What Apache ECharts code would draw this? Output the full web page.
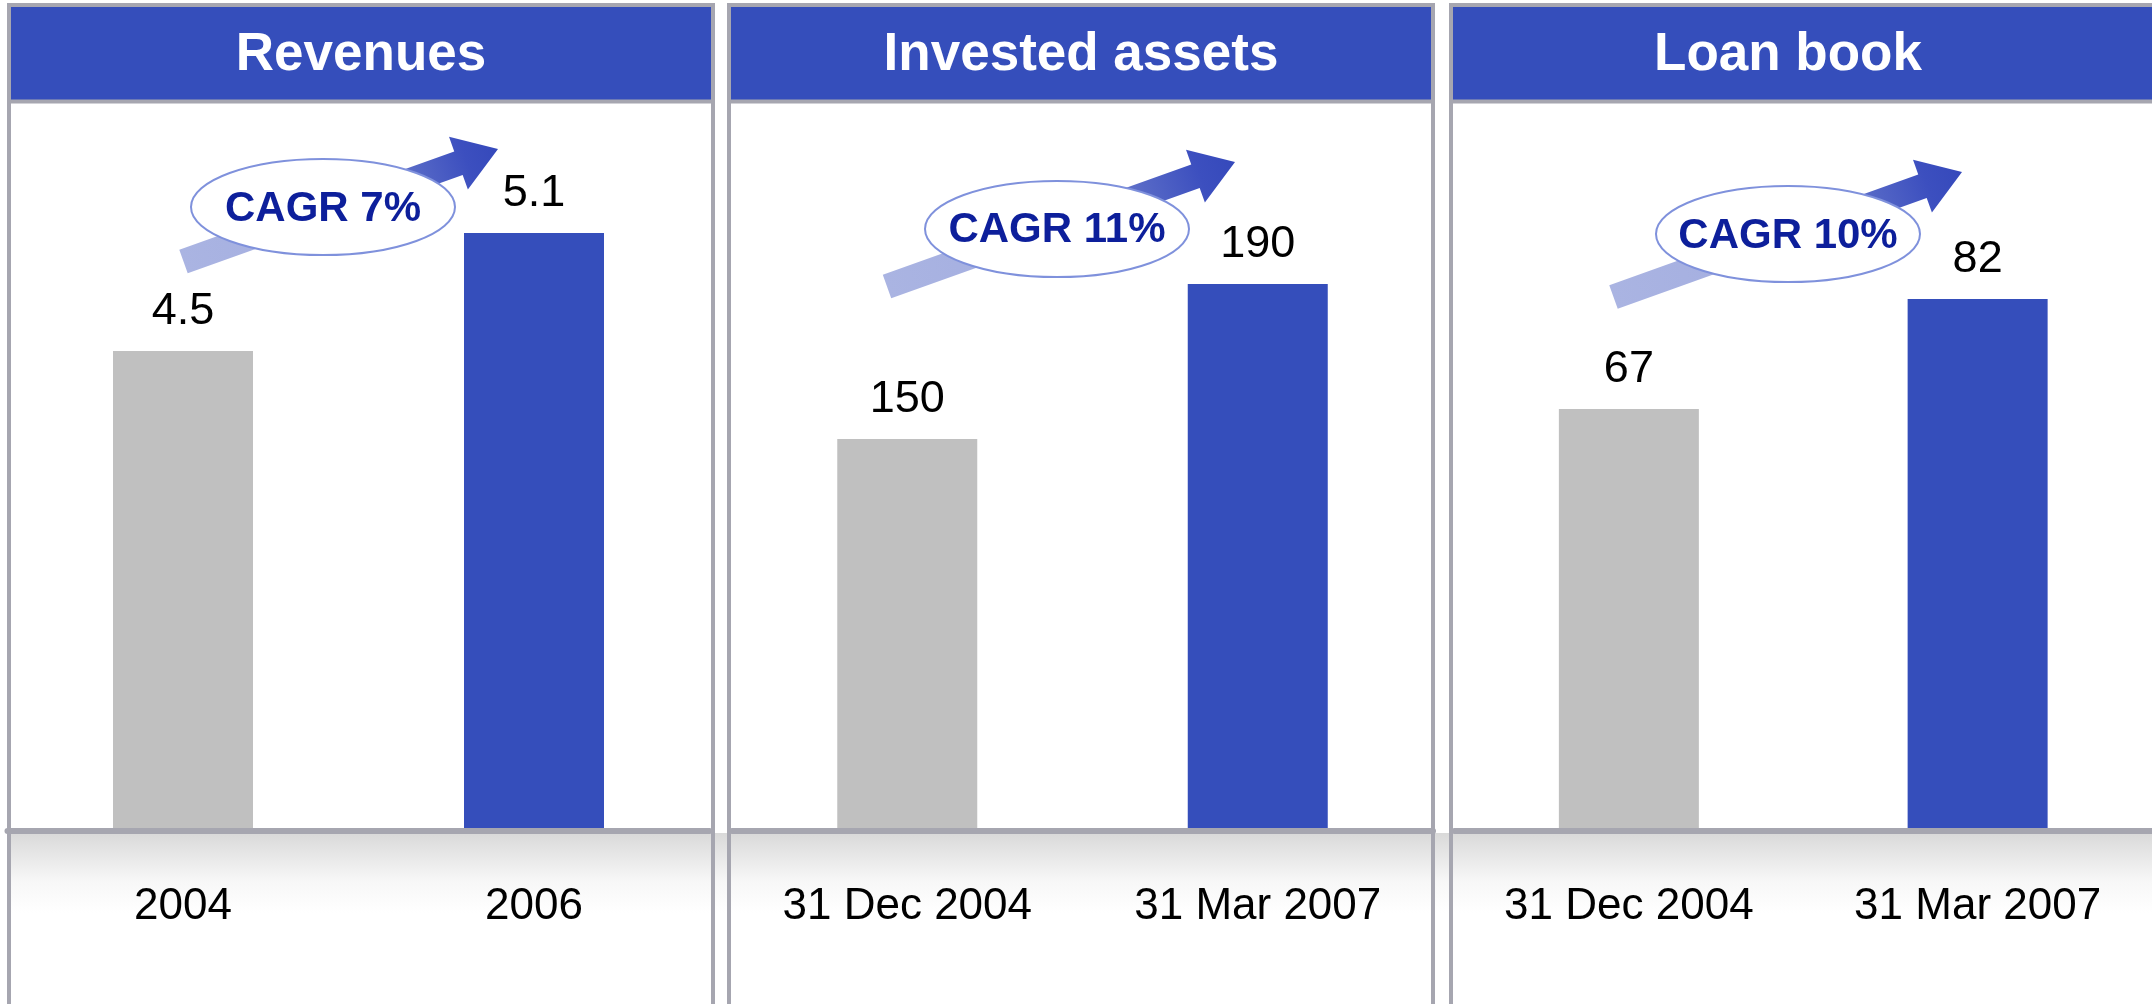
<!DOCTYPE html>
<html>
<head>
<meta charset="utf-8">
<script src="https://cdn.jsdelivr.net/npm/echarts@6/dist/echarts.min.js"></script>
<style>
  html, body { margin: 0; padding: 0; background: #fff; }
  #chart { width: 2152px; height: 1004px; }
</style>
</head>
<body>
<div id="chart"></div>
<script>
// data
var panelTitles = ['Revenues', 'Invested assets', 'Loan book'];
var yearCats = ['2004', '2006'];
var dateCats = ['31 Dec 2004', '31 Mar 2007'];
var revenues = [4.5, 5.1];
var investedAssets = [150, 190];
var loanBook = [67, 82];
var cagrLabels = ['CAGR 7%', 'CAGR 11%', 'CAGR 10%'];

var FONT = '"Liberation Sans", Arial, sans-serif';
var BLUE = '#354ebb';
var GREY = '#c0c0c0';
var BORDER = '#a6a6b0';

var myChart = echarts.init(document.getElementById('chart'));

// panel frames (x of left border line, width)
var panels = [
  { x: 9, w: 704 },
  { x: 729, w: 704 },
  { x: 1451, w: 800 }
];
// grids and hidden value ranges per panel
var grids = [
  { left: 7.5, width: 702, min: 2.059, max: 5.776 },
  { left: 732, width: 701, min: 48.84, max: 237.49 },
  { left: 1454.5, width: 702, min: 9.455, max: 109.14 }
];
var cats = [yearCats, dateCats, dateCats];
var values = [revenues, investedAssets, loanBook];

// cagr bubble + arrow placement
var badges = [
  { cx: 323, cy: 207, ty: 209, tail: [183.5, 261.5], tip: [498, 149] },
  { cx: 1057, cy: 229, ty: 230, tail: [887, 286.5], tip: [1235, 162] },
  { cx: 1788, cy: 234, ty: 236, tail: [1613.5, 297], tip: [1962, 172] }
];

function arrow(tail, tip) {
  var dx = tip[0] - tail[0], dy = tail[1] - tip[1];
  var L = Math.sqrt(dx * dx + dy * dy);
  var hl = 42, sw = 12.5, hw = 28;
  return {
    type: 'group',
    x: tail[0], y: tail[1],
    rotation: Math.atan2(dy, dx),
    z: 10,
    children: [{
      type: 'polygon',
      z: 10,
      shape: { points: [[0, -sw], [L - hl, -sw], [L - hl, -hw], [L, 0], [L - hl, hw], [L - hl, sw], [0, sw]] },
      style: {
        fill: new echarts.graphic.LinearGradient(0, 0, 1, 0, [
          { offset: 0, color: '#aab4e2' },
          { offset: 0.4, color: '#a4aee0' },
          { offset: 0.75, color: '#5567c6' },
          { offset: 0.9, color: '#3c4fbf' },
          { offset: 1, color: '#3549bb' }
        ])
      }
    }]
  };
}

var graphics = [];
// grey band under the axis
graphics.push({
  type: 'rect', z: 0,
  shape: { x: 9, y: 833, width: 2143, height: 80 },
  style: {
    fill: new echarts.graphic.LinearGradient(0, 0, 0, 1, [
      { offset: 0, color: '#d9d9d9' },
      { offset: 0.6, color: '#f7f7f7' },
      { offset: 1, color: '#ffffff' }
    ])
  }
});
panels.forEach(function (p, i) {
  // outer frame
  graphics.push({
    type: 'rect', z: 20,
    shape: { x: p.x, y: 5, width: p.w, height: 1100 },
    style: { fill: null, stroke: BORDER, lineWidth: 4 }
  });
  // title bar
  graphics.push({
    type: 'rect', z: 21,
    shape: { x: p.x, y: 5, width: p.w, height: 96.5 },
    style: { fill: BLUE, stroke: BORDER, lineWidth: 4 }
  });
  graphics.push({
    type: 'text', z: 22,
    x: i == 2 ? 1788 : p.x + p.w / 2, y: 55,
    style: {
      text: panelTitles[i], fill: '#fff',
      font: 'bold 53px ' + FONT,
      align: 'center', verticalAlign: 'middle'
    }
  });
  var b = badges[i];
  graphics.push(arrow(b.tail, b.tip));
  graphics.push({
    type: 'ellipse', z: 11,
    shape: { cx: b.cx, cy: b.cy, rx: 132, ry: 48 },
    style: { fill: '#fff', stroke: '#7f91dc', lineWidth: 2 }
  });
  graphics.push({
    type: 'text', z: 12,
    x: b.cx, y: b.ty,
    style: {
      text: cagrLabels[i], fill: '#0d1f9b',
      font: 'bold 42px ' + FONT,
      align: 'center', verticalAlign: 'middle'
    }
  });
});

var option = {
  backgroundColor: '#fff',
  animation: false,
  textStyle: { fontFamily: FONT },
  grid: grids.map(function (g) {
    return { left: g.left, width: g.width, top: 100, bottom: 173 };
  }),
  xAxis: grids.map(function (g, i) {
    return {
      type: 'category',
      gridIndex: i,
      data: cats[i],
      z: 5,
      axisTick: { show: false },
      axisLine: { lineStyle: { color: BORDER, width: 6, cap: 'round' } },
      axisLabel: { color: '#000', fontSize: 44, margin: 54, fontFamily: FONT }
    };
  }),
  yAxis: grids.map(function (g, i) {
    return {
      type: 'value',
      gridIndex: i,
      min: g.min,
      max: g.max,
      show: false,
      splitLine: { show: false }
    };
  }),
  series: values.map(function (vals, i) {
    return {
      type: 'bar',
      xAxisIndex: i,
      yAxisIndex: i,
      barWidth: 140,
      data: vals.map(function (v, j) {
        return { value: v, itemStyle: { color: j == 0 ? GREY : BLUE } };
      }),
      label: {
        show: true,
        position: 'top',
        distance: 17,
        color: '#000',
        fontSize: 45,
        fontFamily: FONT
      }
    };
  }),
  graphic: graphics
};
myChart.setOption(option);
</script>
</body>
</html>
